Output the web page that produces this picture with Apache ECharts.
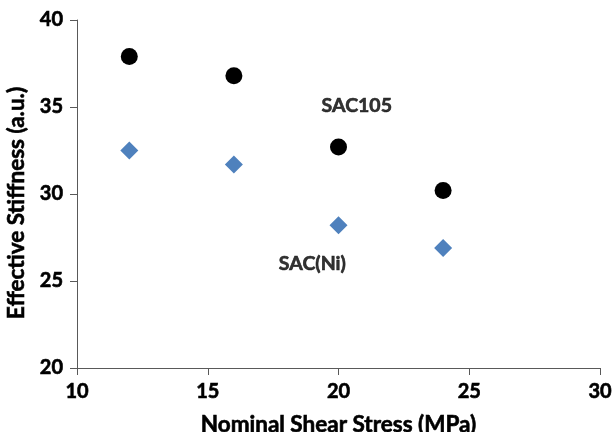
<!DOCTYPE html>
<html>
<head>
<meta charset="utf-8">
<script src="https://cdn.jsdelivr.net/npm/echarts@6/dist/echarts.min.js"></script>
<style>html,body{margin:0;padding:0;background:#fff}#c{width:614px;height:432px}</style>
</head>
<body>
<div id="c"></div>
<script>
const stress = [12, 16, 20, 24];
const sac105 = [37.9, 36.8, 32.7, 30.2];
const sacNi = [32.5, 31.7, 28.2, 26.9];
const annotations = [
  { text: 'SAC105', x: 20.7, y: 35.1 },
  { text: 'SAC(Ni)', x: 19.0, y: 26.0 }
];
const xTitle = 'Nominal Shear Stress (MPa)';
const yTitle = 'Effective Stiffness (a.u.)';

const FONT = 'Lato';
const heavy = { textBorderColor: '#000', textBorderWidth: 0.6 };
const chart = echarts.init(document.getElementById('c'), null, { renderer: 'canvas' });
const axisLine = { show: true, lineStyle: { color: '#595959', width: 1 } };
chart.setOption({
  animation: false,
  grid: { left: 77, right: 14, top: 20, bottom: 64, containLabel: false, outerBoundsMode: 'none' },
  xAxis: {
    type: 'value', min: 10, max: 30, interval: 5,
    axisLine: axisLine,
    axisTick: { show: true, length: 7, inside: false, lineStyle: { color: '#595959' } },
    splitLine: { show: false },
    axisLabel: Object.assign({ color: '#000', fontFamily: FONT, fontWeight: 'bold', fontSize: 20, margin: 14 }, heavy),
    name: xTitle, nameLocation: 'middle', nameGap: 45,
    nameTextStyle: Object.assign({ color: '#000', fontFamily: FONT, fontWeight: 'bold', fontSize: 22.5 }, heavy)
  },
  yAxis: {
    type: 'value', min: 20, max: 40, interval: 5,
    axisLine: axisLine,
    axisTick: { show: true, length: 7, inside: false, lineStyle: { color: '#595959' } },
    splitLine: { show: false },
    axisLabel: Object.assign({ color: '#000', fontFamily: FONT, fontWeight: 'bold', fontSize: 20, margin: 14 }, heavy),
    name: yTitle, nameLocation: 'middle', nameGap: 47, nameRotate: 90,
    nameTextStyle: Object.assign({ color: '#000', fontFamily: FONT, fontWeight: 'bold', fontSize: 22.5, padding: [0, 18, 0, 0] }, heavy)
  },
  series: [
    {
      type: 'scatter', symbol: 'circle', symbolSize: 17,
      itemStyle: { color: '#000', opacity: 1 },
      data: stress.map((x, i) => [x, sac105[i]])
    },
    {
      type: 'scatter', symbol: 'diamond', symbolSize: 18,
      itemStyle: { color: '#4f81bd', opacity: 1 },
      data: stress.map((x, i) => [x, sacNi[i]])
    },
    {
      type: 'scatter', symbolSize: 0, silent: true,
      label: Object.assign({
        show: true, position: 'inside', formatter: p => p.data.name,
        color: '#000', fontFamily: FONT, fontWeight: 'bold', fontSize: 19.5
      }, heavy),
      data: annotations.map(a => ({ name: a.text, value: [a.x, a.y] }))
    }
  ]
});
</script>
</body>
</html>
